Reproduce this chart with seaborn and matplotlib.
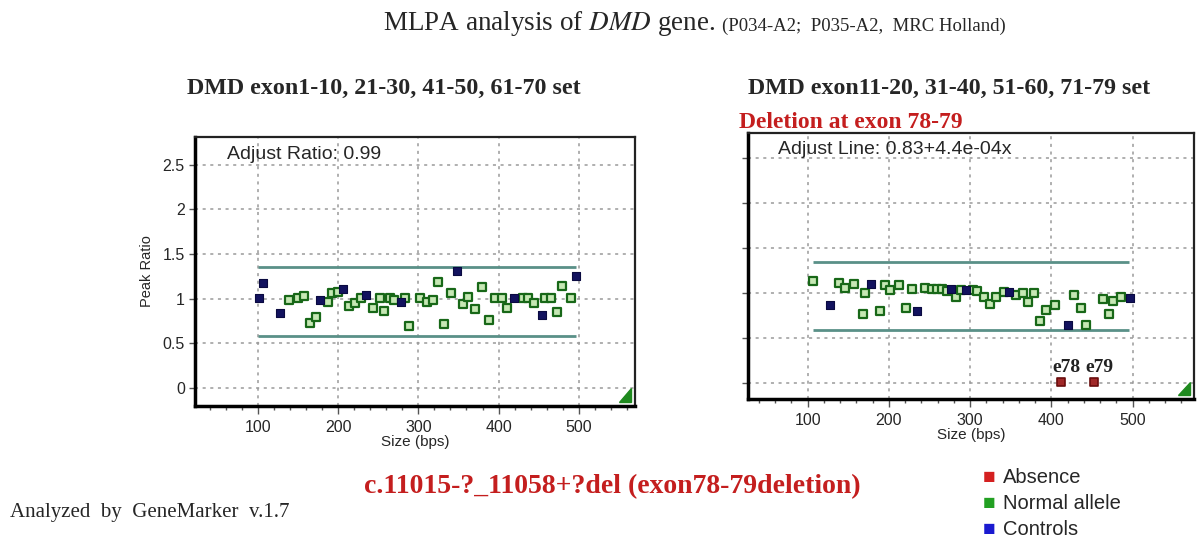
import numpy as np
import pandas as pd
import matplotlib
matplotlib.use('Agg')
import matplotlib.pyplot as plt
from matplotlib.ticker import MultipleLocator, FormatStrFormatter
from matplotlib.patches import Polygon
import seaborn as sns

# left panel (exon 1-10, 21-30, 41-50, 61-70)
leftCtrlX = [101, 106, 128, 178, 206, 235, 278, 348, 419, 454, 497]
leftCtrlY = [1.01, 1.17, 0.84, 0.99, 1.11, 1.04, 0.96, 1.31, 1.01, 0.82, 1.25]
leftNormX = [139, 150, 158, 165, 173, 188, 192, 200, 213, 221, 228, 244, 252, 257, 265, 270,
             284, 289, 302, 311, 318, 325, 332, 341, 356, 362, 371, 379, 388, 396, 404, 411,
             430, 437, 444, 458, 466, 473, 479, 490]
leftNormY = [0.99, 1.01, 1.03, 0.73, 0.80, 0.96, 1.06, 1.07, 0.92, 0.95, 1.01, 0.89, 1.01, 0.86, 1.01, 0.99,
             1.01, 0.69, 1.01, 0.96, 0.99, 1.19, 0.72, 1.06, 0.94, 1.02, 0.88, 1.13, 0.76, 1.01, 1.01, 0.89,
             1.01, 1.01, 0.95, 1.01, 1.01, 0.85, 1.14, 1.01]
leftLimits = [0.58, 1.35]
leftLimitSpan = [100, 496]

# right panel (exon 11-20, 31-40, 51-60, 71-79)
rightCtrlX = [128, 178, 235, 276, 295, 348, 421, 497]
rightCtrlY = [0.86, 1.10, 0.80, 1.04, 1.03, 1.01, 0.64, 0.94]
rightNormX = [106, 139, 146, 157, 168, 171, 189, 195, 201, 213, 221, 228, 244, 253, 259, 265,
              271, 283, 289, 303, 309, 317, 325, 332, 342, 356, 365, 371, 379, 386, 393, 405,
              428, 436, 443, 464, 471, 476, 486]
rightNormY = [1.13, 1.11, 1.06, 1.10, 0.76, 1.00, 0.80, 1.09, 1.03, 1.09, 0.83, 1.04, 1.06, 1.04, 1.04, 1.04,
              1.02, 0.95, 1.03, 1.03, 1.02, 0.96, 0.88, 0.96, 1.01, 0.98, 1.00, 0.90, 1.00, 0.69, 0.81, 0.86,
              0.98, 0.83, 0.64, 0.93, 0.76, 0.91, 0.95]
rightAbsX = [412, 452]
rightAbsY = [0.01, 0.01]
rightAbsLabels = ['e78', 'e79']
rightLimits = [0.59, 1.34]
rightLimitSpan = [106, 496]

legendNames = ['Absence', 'Normal allele', 'Controls']
legendColors = ['#d42020', '#22a022', '#1a1ad0']

sns.set_theme(style='white')
plt.rcParams['font.family'] = ['Liberation Sans', 'DejaVu Sans']

fig = plt.figure(figsize=(11.98, 5.39), dpi=100)
axL = fig.add_axes([0.163, 0.247, 0.367, 0.499])
axR = fig.add_axes([0.624, 0.260, 0.373, 0.493])


def drawPanel(ax, ctrlX, ctrlY, normX, normY, limits, span, xlim, ylim, showY):
    ax.set_xlim(*xlim)
    ax.set_ylim(*ylim)
    ax.hlines(limits, span[0], span[1], color='#5a9088', lw=2, zorder=2)
    sns.scatterplot(x=normX, y=normY, ax=ax, marker='s', s=38, color='#c6e8b4',
                    edgecolor='#186818', linewidth=1.6, zorder=3)
    sns.scatterplot(x=ctrlX, y=ctrlY, ax=ax, marker='s', s=40, color='#12125e',
                    edgecolor='#0a0a40', linewidth=0.8, zorder=4)
    ax.xaxis.set_major_locator(MultipleLocator(100))
    ax.xaxis.set_minor_locator(MultipleLocator(20))
    ax.yaxis.set_major_locator(MultipleLocator(0.5))
    ax.yaxis.set_major_formatter(FormatStrFormatter('%g'))
    ax.grid(True, which='major', color='#9a9a9a', ls=(0, (2, 3)), lw=1.1)
    ax.tick_params(axis='x', which='major', direction='out', length=6, width=1, color='#555555',
                   labelsize=11.5, pad=4, bottom=True)
    ax.tick_params(axis='x', which='minor', direction='out', length=3, width=1, color='#555555', bottom=True)
    ax.tick_params(axis='y', which='major', direction='out', length=4, width=1, color='#555555',
                   labelsize=11.5, left=True, labelleft=showY)
    ax.set_xlabel('Size (bps)', fontsize=11, labelpad=0)
    for side in ['left', 'bottom']:
        ax.spines[side].set_linewidth(2.5)
        ax.spines[side].set_color('black')
    for side in ['top', 'right']:
        ax.spines[side].set_linewidth(1.6)
        ax.spines[side].set_color('#222222')
    # little green corner mark
    tri = Polygon([[0.963, 0.015], [0.99, 0.015], [0.99, 0.065]], closed=True,
                  transform=ax.transAxes, color='#1f8a1f', zorder=5, clip_on=False)
    ax.add_patch(tri)


drawPanel(axL, leftCtrlX, leftCtrlY, leftNormX, leftNormY, leftLimits, leftLimitSpan,
          (22, 570), (-0.2, 2.81), True)
axL.set_ylabel('Peak Ratio', fontsize=10.5, labelpad=6)
axL.text(0.073, 0.965, 'Adjust Ratio: 0.99', transform=axL.transAxes, fontsize=14, va='top')

drawPanel(axR, rightCtrlX, rightCtrlY, rightNormX, rightNormY, rightLimits, rightLimitSpan,
          (26, 576), (-0.18, 2.78), False)
sns.scatterplot(x=rightAbsX, y=rightAbsY, ax=axR, marker='s', s=34, color='#a02828',
                edgecolor='#6a0d0d', linewidth=1.2, zorder=4)
for xv, yv, lab in zip(rightAbsX, rightAbsY, rightAbsLabels):
    axR.annotate(lab, (xv, yv), xytext=(4, 4), textcoords='offset points', ha='center', va='bottom',
                 fontsize=14, fontweight='bold', family='Liberation Serif', color='#222222')
axR.text(0.068, 0.97, 'Adjust Line: 0.83+4.4e-04x', transform=axR.transAxes, fontsize=14, va='top')

# titles
serif = 'Liberation Serif'
t1 = fig.text(0.320, 0.956, r'MLPA analysis of $\it{DMD}$ gene.', fontsize=19.5, family=serif,
              ha='left', va='center', math_fontfamily='stix')
fig.canvas.draw()
bb = t1.get_window_extent()
fig.text(bb.x1 / fig.bbox.width + 0.005, 0.951, '(P034-A2;  P035-A2,  MRC Holland)', fontsize=13.5,
         family=serif, ha='left', va='center')

fig.text(0.320, 0.835, 'DMD exon1-10, 21-30, 41-50, 61-70 set', fontsize=17.3, fontweight='bold',
         family=serif, ha='center', va='center')
fig.text(0.792, 0.835, 'DMD exon11-20, 31-40, 51-60, 71-79 set', fontsize=17.2, fontweight='bold',
         family=serif, ha='center', va='center')
fig.text(0.617, 0.773, 'Deletion at exon 78-79', fontsize=17, fontweight='bold', family=serif,
         color='#c41e1e', ha='left', va='center')

fig.text(0.511, 0.097, 'c.11015-?_11058+?del (exon78-79deletion)', fontsize=20, fontweight='bold',
         family=serif, color='#c41e1e', ha='center', va='center')
fig.text(0.008, 0.049, 'Analyzed  by  GeneMarker  v.1.7', fontsize=15, family=serif,
         ha='left', va='center')

# legend
for i, (name, col) in enumerate(zip(legendNames, legendColors)):
    yy = 0.115 - i * 0.049
    fig.text(0.826, yy, '\u25A0', fontsize=15, color=col, ha='center', va='center')
    fig.text(0.837, yy, name, fontsize=14.5, ha='left', va='center')

fig.savefig('out.png', dpi=100, facecolor='white')
